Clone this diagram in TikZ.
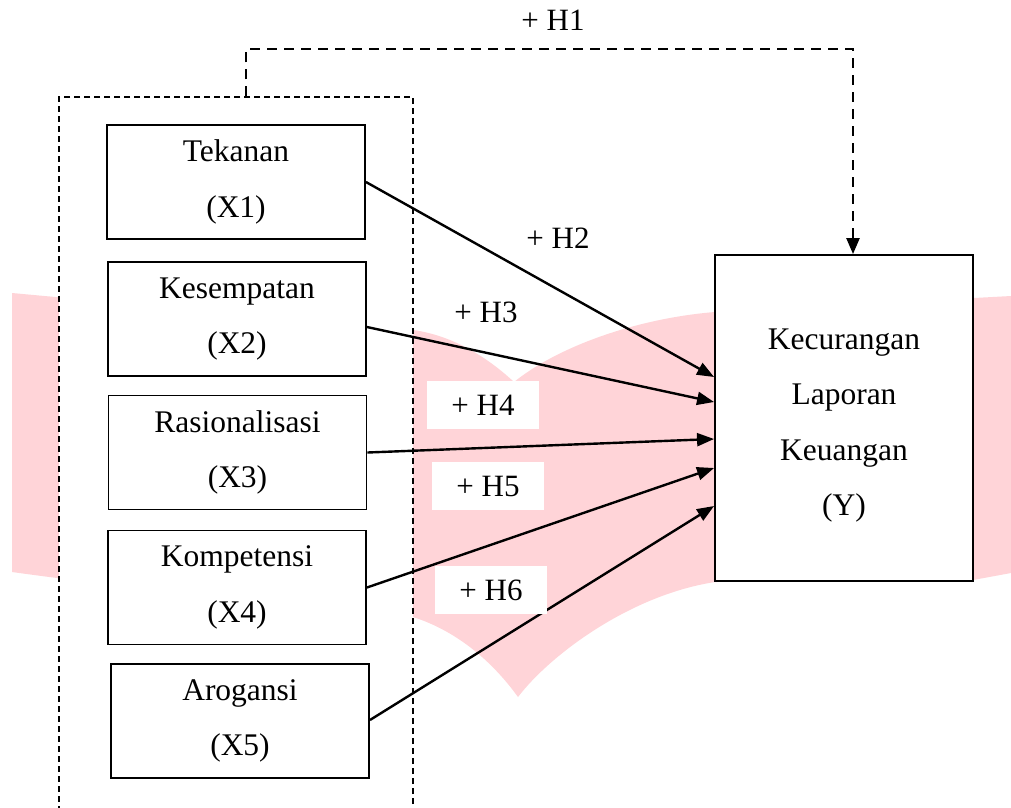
\documentclass[tikz,border=0pt]{standalone}
\usepackage{fontspec}
\setmainfont{Liberation Serif}
\usetikzlibrary{arrows.meta}
\definecolor{wmpink}{RGB}{255,212,216}
\begin{document}
\begin{tikzpicture}[x=1pt,y=-1pt,
  xbox/.style={draw, line width=1.9pt, fill=white, minimum width=258pt, minimum height=114pt, align=center, inner sep=0pt, font=\fontsize{31.5}{55.5}\selectfont},
  ybox/.style={draw, line width=1.9pt, fill=white, minimum width=258pt, minimum height=326pt, inner sep=0pt},
  ytxt/.style={align=center, inner sep=0pt, font=\fontsize{31.5}{55.5}\selectfont},
  hlabel/.style={font=\fontsize{31}{37}\selectfont, inner sep=0pt},
  hbox/.style={hlabel, fill=white, minimum width=112pt, minimum height=48pt},
  grpbox/.style={draw, dash pattern=on 6pt off 4pt, line width=1.5pt, fill=white, minimum width=354pt, minimum height=723pt, inner sep=0pt},
  link/.style={line width=2.4pt, -{Triangle[length=17pt,width=13pt]}},
  hlink/.style={line width=2.4pt, dash pattern=on 10pt off 7pt, -{Triangle[length=16pt,width=13pt]}}
]
\useasboundingbox (0,0) rectangle (1011,807);
\clip (0,0) rectangle (1011,807);
\fill[white] (0,0) rectangle (1011,807);
% watermark
\fill[wmpink] (12,293) -- (12,572) .. controls (200,598) and (350,606) .. (413,617)
  .. controls (460,632) and (495,665) .. (518,697)
  .. controls (550,655) and (630,595) .. (715,582) -- (973,580) -- (1011,573)
  -- (1011,296) -- (715,312)
  .. controls (640,318) and (560,345) .. (514,382)
  .. controls (485,355) and (450,335) .. (413,330) -- cycle;
% group frame
\node[grpbox] (grp) at (236,458.5) {};
% boxes
\node[xbox] (x1) at (236,182) {Tekanan\\(X1)};
\node[xbox] (x2) at (237,319) {Kesempatan\\(X2)};
\node[xbox] (x3) at (237.5,452.5) {Rasionalisasi\\(X3)};
\node[xbox] (x4) at (237,587.5) {Kompetensi\\(X4)};
\node[xbox] (x5) at (240,721) {Arogansi\\(X5)};
\node[ybox] (y) at (844,418) {};
\node[ytxt] (ytext) at (844,425.5) {Kecurangan\\Laporan\\Keuangan\\(Y)};
% connectors
\draw[hlink] ([xshift=10pt]grp.north) -- ++(0,-47) -| ([xshift=9pt]y.north);
\draw[link] (x1.east) -- ([yshift=41pt]y.west);
\draw[link] ([yshift=-8pt]x2.east) -- ([yshift=16pt]y.west);
\draw[link] (x3.east) -- ([yshift=-21pt]y.west);
\draw[link] (x4.east) -- ([yshift=-50pt]y.west);
\draw[link] ([yshift=1pt]x5.east) -- ([yshift=-88pt]y.west);
% labels
\node[hlabel] (h1) at (553,20) {+ H1};
\node[hlabel] (h2) at (558,238) {+ H2};
\node[hlabel] (h3) at (486,312) {+ H3};
\node[hbox] (h4) at (483,405) {+ H4};
\node[hbox] (h5) at (488,486) {+ H5};
\node[hbox] (h6) at (491,590) {+ H6};
\end{tikzpicture}
\end{document}
